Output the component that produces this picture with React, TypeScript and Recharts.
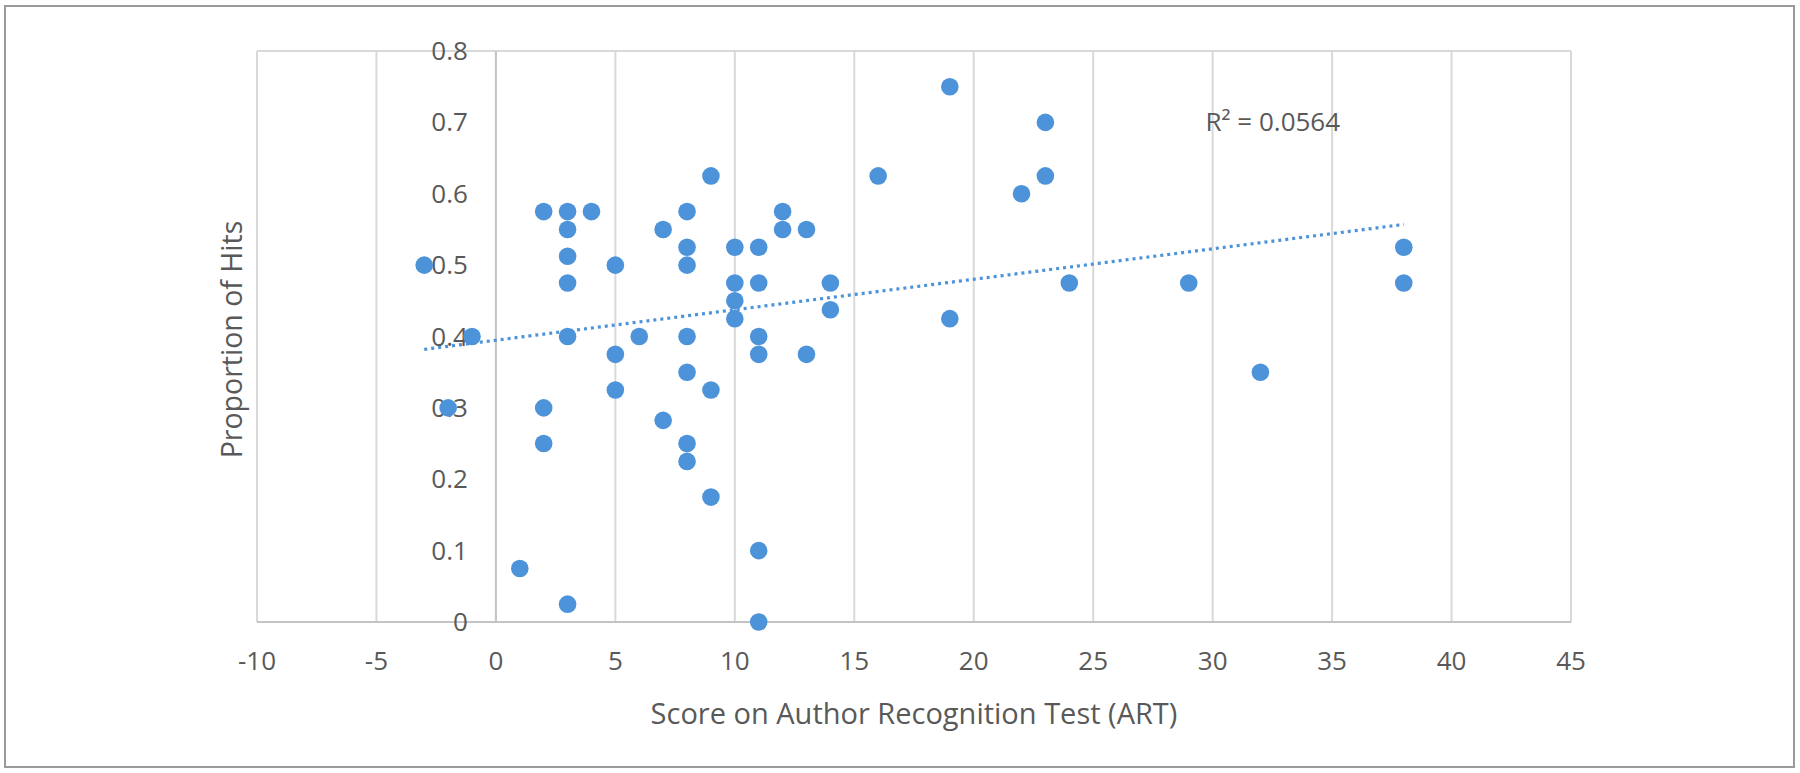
import React from 'react';
import { ScatterChart, Scatter, XAxis, YAxis, CartesianGrid, ReferenceLine } from 'recharts';

// ART score of each participant
const artScores = [
  -3, -1, -2, 1, 2, 2, 2, 3, 3, 3, 3, 3, 3, 4, 5, 5, 5, 6, 7, 7,
  8, 8, 8, 8, 8, 8, 8, 9, 9, 9, 10, 10, 10, 10, 11, 11, 11, 11, 11, 11,
  12, 12, 13, 13, 14, 14, 16, 19, 19, 22, 23, 23, 24, 29, 32, 38, 38,
];
// Proportion of hits of each participant
const hitProportions = [
  0.5, 0.4, 0.3, 0.075, 0.575, 0.3, 0.25, 0.575, 0.55, 0.5125, 0.475, 0.4, 0.025, 0.575, 0.5, 0.375, 0.325, 0.4, 0.55, 0.2825,
  0.575, 0.525, 0.5, 0.4, 0.35, 0.25, 0.225, 0.625, 0.325, 0.175, 0.525, 0.475, 0.45, 0.425, 0.525, 0.475, 0.4, 0.375, 0.1, 0,
  0.575, 0.55, 0.55, 0.375, 0.475, 0.4375, 0.625, 0.75, 0.425, 0.6, 0.7, 0.625, 0.475, 0.475, 0.35, 0.525, 0.475,
];

// Linear trendline end points (as drawn)
const trendX = [-3, 38];
const trendY = [0.382, 0.557];
const rSquaredLabel = 'R² = 0.0564';
const rSquaredAnchor = { x: 29.7, y: 0.7 };

const xTicks = [-10, -5, 0, 5, 10, 15, 20, 25, 30, 35, 40, 45];
const yTicks = [0, 0.1, 0.2, 0.3, 0.4, 0.5, 0.6, 0.7, 0.8];
const yTickLabels = ['0', '0.1', '0.2', '0.3', '0.4', '0.5', '0.6', '0.7', '0.8'];

const xTitle = 'Score on Author Recognition Test (ART)';
const yTitle = 'Proportion of Hits';

const points = artScores.map((x, i) => ({ x, y: hitProportions[i] }));
const yLabelPoints = yTicks.map((y, i) => ({ x: 0, y, label: yTickLabels[i] }));
const r2Points = [{ x: rSquaredAnchor.x, y: rSquaredAnchor.y, label: rSquaredLabel }];

const FONT = '"Open Sans", "Noto Sans", sans-serif';
const TEXT = '#595959';
const DOT = '#4d93d9';

const YTickLabel = (props: any) => {
  const { cx, cy, payload } = props;
  return (
    <text x={cx - 28} y={cy} dy="0.35em" textAnchor="end" fontSize={26} fontFamily={FONT} fill={TEXT}>
      {payload.label}
    </text>
  );
};

const R2Label = (props: any) => {
  const { cx, cy, payload } = props;
  return (
    <text x={cx} y={cy} dy="0.35em" textAnchor="start" fontSize={26} fontFamily={FONT} fill={TEXT}>
      {payload.label}
    </text>
  );
};

export default function App() {
  return (
    <div style={{ position: 'absolute', left: 0, top: 0, width: 1800, height: 773, background: '#ffffff' }}>
      <div
        style={{
          position: 'absolute',
          left: 4,
          top: 5,
          width: 1791,
          height: 763,
          boxSizing: 'border-box',
          border: '2px solid #9a9a9a',
        }}
      />
      <div style={{ position: 'absolute', left: 0, top: 0 }}>
        <ScatterChart width={1800} height={773} margin={{ top: 51, right: 229, bottom: 0, left: 207 }}>
          <CartesianGrid stroke="#d9d9d9" strokeWidth={2} />
          <XAxis
            type="number"
            dataKey="x"
            domain={[-10, 45]}
            ticks={xTicks}
            height={151}
            tickLine={false}
            tickSize={0}
            tickMargin={30}
            axisLine={{ stroke: '#c4c4c4', strokeWidth: 2 }}
            tick={{ fontSize: 26, fontFamily: FONT, fill: TEXT }}
            label={{
              value: xTitle,
              position: 'insideBottom',
              offset: 49,
              style: { fontSize: 29, fontFamily: FONT, fill: TEXT, textAnchor: 'middle' },
            }}
          />
          <YAxis
            type="number"
            dataKey="y"
            domain={[0, 0.8]}
            ticks={yTicks}
            width={50}
            tick={false}
            tickLine={false}
            axisLine={false}
            label={{
              value: yTitle,
              angle: -90,
              position: 'center',
              dy: 3,
              style: { fontSize: 28.5, fontFamily: FONT, fill: TEXT, textAnchor: 'middle' },
            }}
          />
          <ReferenceLine x={0} stroke="#c4c4c4" strokeWidth={2} />
          <Scatter data={yLabelPoints} shape={YTickLabel} isAnimationActive={false} />
          <Scatter data={r2Points} shape={R2Label} isAnimationActive={false} />
          <Scatter data={points} fill={DOT} isAnimationActive={false}
            shape={(p: any) => <circle cx={p.cx} cy={p.cy} r={8.8} fill={DOT} />} />
          <ReferenceLine
            segment={[{ x: trendX[0], y: trendY[0] }, { x: trendX[1], y: trendY[1] }]}
            stroke={DOT}
            strokeWidth={3.2}
            strokeDasharray="3 4"
            ifOverflow="visible"
          />
        </ScatterChart>
      </div>
    </div>
  );
}
